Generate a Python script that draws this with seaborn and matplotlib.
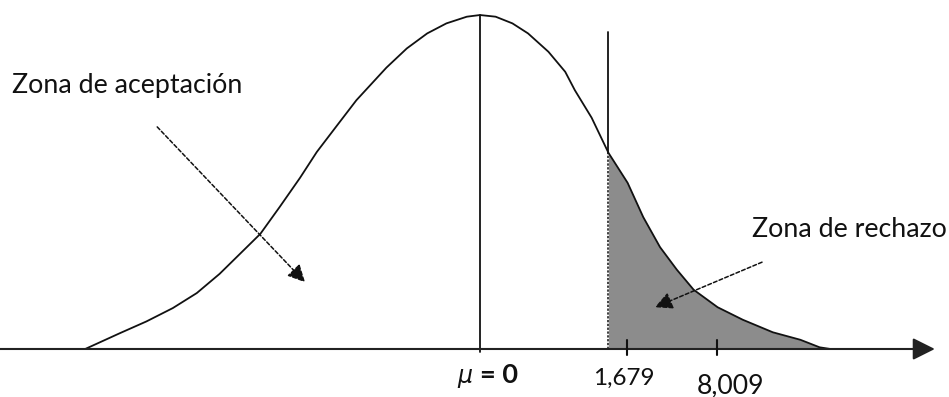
import numpy as np
import matplotlib
matplotlib.use('Agg')
import matplotlib.pyplot as plt
import seaborn as sns

# curve (x in sigma-like units, mu at 0)
curve_x = [-3.29, -3.0, -2.78, -2.56, -2.36, -2.17, -2.0, -1.83, -1.67, -1.5,
           -1.36, -1.19, -1.03, -0.78, -0.61, -0.44, -0.28, -0.11, 0.0, 0.13,
           0.27, 0.4, 0.57, 0.71, 0.79, 0.93, 1.07, 1.23, 1.36, 1.5,
           1.64, 1.78, 1.98, 2.19, 2.44, 2.67, 2.83, 2.92]
curve_y = [0.0, 0.019, 0.033, 0.049, 0.067, 0.090, 0.114, 0.138, 0.170, 0.205,
           0.236, 0.268, 0.298, 0.337, 0.360, 0.378, 0.390, 0.398, 0.400, 0.398,
           0.390, 0.378, 0.356, 0.332, 0.310, 0.277, 0.235, 0.199, 0.158, 0.122,
           0.095, 0.071, 0.050, 0.035, 0.020, 0.011, 0.002, 0.0]

mu_label = '= 0'
tick_labels = ['1,679', '8,009']
zone_labels = ['Zona de aceptación', 'Zona de rechazo']

crit_x = 1.07
tick_pos = [1.225, 1.975]

sns.set_theme(style='white')
plt.rcParams['font.family'] = ['Lato', 'DejaVu Sans']

fig = plt.figure(figsize=(9.49, 3.97), dpi=100)
ax = fig.add_axes([0, 0, 1, 1])
ax.set_xlim(-4.0, 3.908)
ax.set_ylim(-0.0575, 0.418)
ax.axis('off')

cx = np.array(curve_x)
cy = np.array(curve_y)

# shaded rejection tail
tail = cx >= crit_x
ax.fill_between(cx[tail], 0, cy[tail], color='#8c8c8c', lw=0, zorder=1)

sns.lineplot(x=curve_x, y=curve_y, color='#111111', lw=1.3, sort=False, ax=ax, zorder=3)
for ln in ax.lines:
    ln.set_solid_joinstyle('round')

# x axis with arrow
ax.annotate('', xy=(3.79, 0), xytext=(-4.0, 0),
            arrowprops=dict(arrowstyle='-|>,head_length=0.9,head_width=0.45',
                            mutation_scale=15, lw=1.5, color='#222222',
                            shrinkA=0, shrinkB=0), zorder=4)

# mean line
ax.plot([0, 0], [-0.004, 0.4], color='#111111', lw=1.3, zorder=3)

# critical value line: solid above the curve, dotted inside the tail
crit_y = np.interp(crit_x, cx, cy)
ax.plot([crit_x, crit_x], [crit_y, 0.38], color='#111111', lw=1.3, zorder=3)
ax.plot([crit_x, crit_x], [0, crit_y], color='#111111', lw=1.1,
        linestyle=(0, (1.5, 1)), zorder=3)

# ticks
for tp in tick_pos:
    ax.plot([tp, tp], [-0.007, 0.011], color='#111111', lw=1.5, zorder=4)

# tick labels
ax.text(1.196, -0.0431, tick_labels[0], ha='center', va='baseline', fontsize=17.5, color='#111111')
ax.text(2.09, -0.0527, tick_labels[1], ha='center', va='baseline', fontsize=19.2, color='#111111')

# mu label
ax.text(-0.12, -0.0407, r'$\mu$', ha='center', va='baseline', fontsize=17, color='#111111')
ax.text(0.0, -0.0407, mu_label, ha='left', va='baseline', fontsize=19.5,
        fontweight='bold', color='#111111')

# zone labels
ax.text(-3.9, 0.3066, zone_labels[0], ha='left', va='baseline', fontsize=19.3, color='#111111')
ax.text(2.267, 0.134, zone_labels[1], ha='left', va='baseline', fontsize=19.3, color='#111111')

# pointing arrows
arrow_style = '-|>,head_length=0.7,head_width=0.35'
ax.annotate('', xy=(-1.458, 0.080), xytext=(-2.69, 0.266),
            arrowprops=dict(arrowstyle=arrow_style, mutation_scale=15, lw=1.1,
                            color='#111111', linestyle=(0, (2.5, 1.5)),
                            shrinkA=0, shrinkB=0), zorder=5)
ax.annotate('', xy=(1.458, 0.050), xytext=(2.35, 0.104),
            arrowprops=dict(arrowstyle=arrow_style, mutation_scale=15, lw=1.1,
                            color='#111111', linestyle=(0, (2.5, 1.5)),
                            shrinkA=0, shrinkB=0), zorder=5)

fig.savefig('out.png', dpi=100, facecolor='white')
